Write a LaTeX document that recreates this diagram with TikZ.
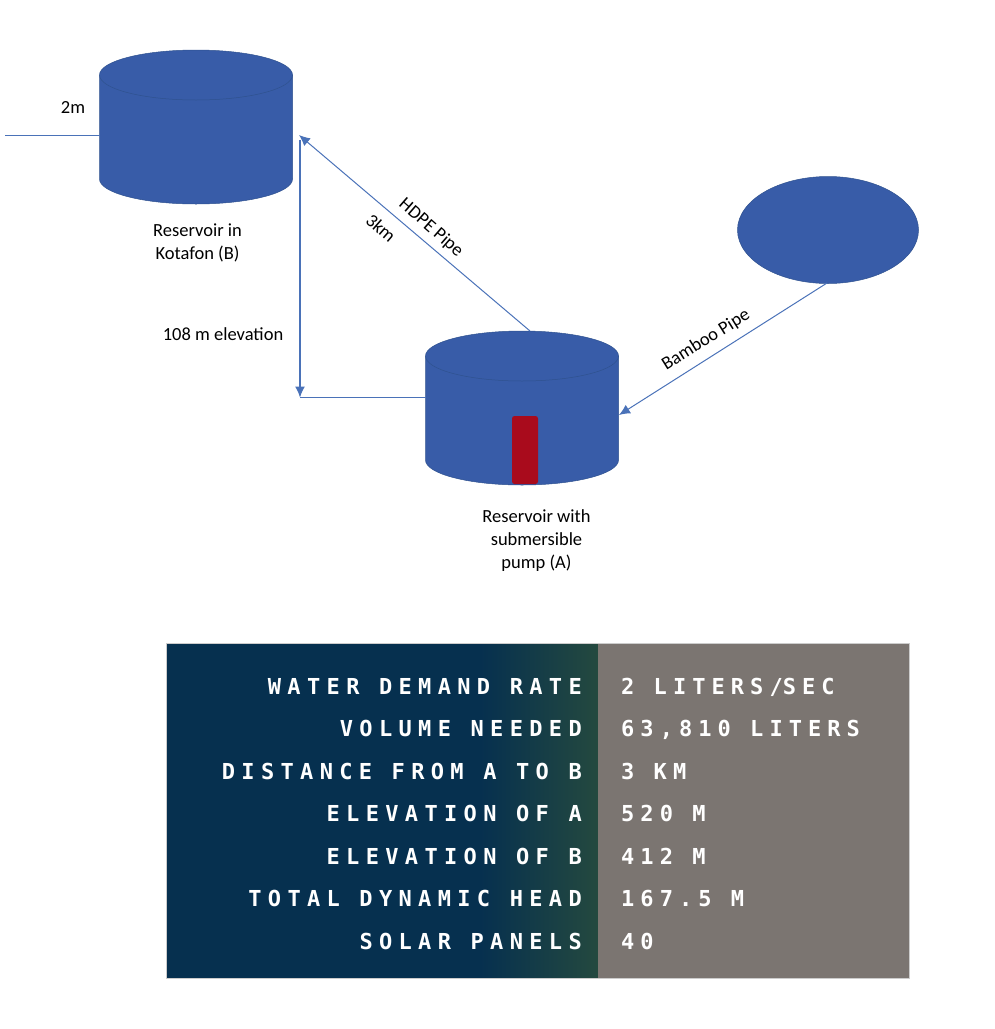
\documentclass[tikz,border=0pt]{standalone}
\usepackage{fontspec}
\setmainfont{Carlito}
\newfontfamily\namefont[LetterSpace=28.8]{DejaVu Sans Mono}
\newfontfamily\valuefont[LetterSpace=27.5]{DejaVu Sans Mono}
\usepackage{tikz}
\usetikzlibrary{arrows.meta,positioning,shapes.geometric}
\definecolor{tankblue}{HTML}{385CA8}
\definecolor{tankedge}{HTML}{2F528F}
\definecolor{pipeblue}{HTML}{4A72B8}
\definecolor{pumpred}{HTML}{A90B1C}
\definecolor{panelnavy}{HTML}{06304F}
\definecolor{panelteal}{HTML}{0B3C50}
\definecolor{panelgreen}{HTML}{24493F}
\definecolor{panelgrey}{HTML}{7B7571}
\tikzset{
  tank/.style   = {minimum width=193pt, minimum height=154pt, inner sep=0pt, outer sep=0pt},
  tankbody/.style = {draw=tankedge, fill=tankblue, line width=0.5pt},
  pipe/.style   = {pipeblue, line width=1pt},
  flow/.style   = {-{Latex[length=11pt,width=10pt]}, pipeblue, line width=1pt},
  note/.style   = {font=\fontsize{18.5}{23}\selectfont, align=center, text=black, inner sep=0pt},
  rowname/.style= {font=\namefont\bfseries\fontsize{22}{22}\selectfont, text=white, anchor=base east, inner sep=0pt},
  rowval/.style = {font=\valuefont\bfseries\fontsize{22}{22}\selectfont, text=white, anchor=base west, inner sep=0pt},
}
\begin{document}
\begin{tikzpicture}[x=1pt, y=-1pt]
\useasboundingbox (0,0) rectangle (995,1029);

% ---------------- the reservoirs --------------------------------------
\node[tank] (tankB) at (196,127) {};
\node[tank] (tankA) at (522,408) {};
\foreach \t in {tankB, tankA} {
  \draw[tankbody] (\t.north west) ++(0,25) -- ++(0,104)
    arc[start angle=180, end angle=360, x radius=96.5pt, y radius=25pt] -- ++(0,-104)
    arc[start angle=0, end angle=180, x radius=96.5pt, y radius=25pt] -- cycle;
  \draw[tankedge, line width=0.5pt] (\t.north west) ++(0,25)
    arc[start angle=180, end angle=360, x radius=96.5pt, y radius=25pt];
}
\node[draw=tankedge, fill=tankblue, ellipse, minimum width=181pt, minimum height=107pt,
      inner sep=0pt, line width=0.5pt] (source) at (828,230) {};
\node[fill=pumpred, rounded corners=2.5pt, minimum width=26pt, minimum height=68pt,
      inner sep=0pt] (pump) at (525,450) {};

% ---------------- the pipes -------------------------------------------
\coordinate (ground) at (5,135.5);
\coordinate (inlet) at (299,135);
\coordinate (corner) at (300,397.5);
\coordinate (topA) at (530,331);
\coordinate (sideA) at (619,415);
\coordinate (outS) at (827,283);

\draw[pipe] (ground) -- (ground -| tankB.west);
\draw[flow] (topA) -- (inlet);
\draw[flow, line width=1.3pt] (corner |- 0,140) -- (corner);
\draw[pipe] (corner) -- (corner -| tankA.west);
\draw[flow] (outS) -- (sideA);

% ---------------- the labels ------------------------------------------
\node[note] (lheight) at (73,107) {2m};
\node[note] (lB) at (197.5,243) {Reservoir in\\Kotafon (B)};
\node[note] (lelev) at (223,334) {108 m elevation};
\node[note, rotate=-41] (lhdpe) at (431,228) {HDPE Pipe};
\node[note, rotate=-41] (llen) at (381,228) {3km};
\node[note, rotate=32] (lbamboo) at (706,340) {Bamboo Pipe};
\node[note] (lA) at (536.5,540.5) {Reservoir with\\submersible\\pump (A)};

% ---------------- the table -------------------------------------------
\fill[panelnavy] (166,643) rectangle (480,978);
\shade[left color=panelnavy, middle color=panelteal, right color=panelgreen] (480,643) rectangle (598,978);
\fill[panelgrey] (598,643) rectangle (909,978);
\draw[black!20, line width=0.5pt] (166,643) rectangle (909,978);

\foreach \i/\j/\k in {0/WATER DEMAND RATE/2 LITERS\slash SEC,
                      1/VOLUME NEEDED/{63,810 LITERS},
                      2/DISTANCE FROM A TO B/3 KM,
                      3/ELEVATION OF A/520 M,
                      4/ELEVATION OF B/412 M,
                      5/TOTAL DYNAMIC HEAD/167.5 M,
                      6/SOLAR PANELS/40}
{
  \node[rowname] (name\i) at (582,694+42.5*\i) {\j};
  \node[rowval] (val\i) at (621,694+42.5*\i) {\k};
}

\end{tikzpicture}
\end{document}
